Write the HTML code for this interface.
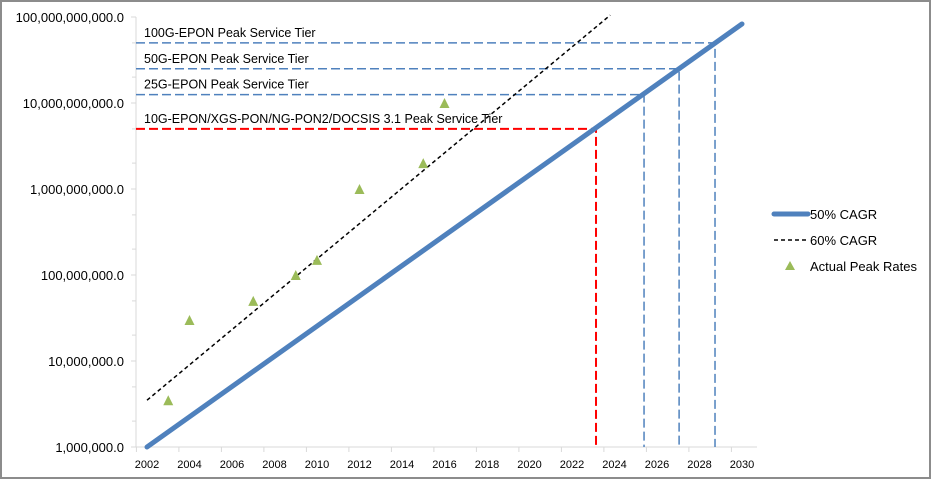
<!DOCTYPE html>
<html><head><meta charset="utf-8"><style>
body{margin:0;background:#fff}
svg{display:block;font-family:"Liberation Sans",sans-serif}
</style></head><body>
<svg id="c" width="932" height="480">
<rect x="1" y="1" width="929" height="477" fill="#fff" stroke="#8c8c8c" stroke-width="2"/>
<g id="g"></g>
</svg>
<script>
const yTickValues=[1e6,1e7,1e8,1e9,1e10,1e11];
const yTickLabels=["1,000,000.0","10,000,000.0","100,000,000.0","1,000,000,000.0","10,000,000,000.0","100,000,000,000.0"];
const xTicks=[2002,2004,2006,2008,2010,2012,2014,2016,2018,2020,2022,2024,2026,2028,2030];
const cagr50Start=[2002,1e6], cagr50End=[2030,8.3e10];
const cagr60Start=[2002,3.5e6], cagr60End=[2023.8,1.05e11];
const peakYears=[2003,2004,2007,2009,2010,2012,2015,2016];
const peakRates=[3.5e6,3e7,5e7,1e8,1.5e8,1e9,2e9,1e10];
const tierNames=["10G-EPON/XGS-PON/NG-PON2/DOCSIS 3.1 Peak Service Tier","25G-EPON Peak Service Tier","50G-EPON Peak Service Tier","100G-EPON Peak Service Tier"];
const tierRates=[5e9,12.5e9,25e9,50e9];
const tierYears=[2023.13,2025.39,2027.04,2028.73];
const tierColors=["#ff0000","#4f81bd","#4f81bd","#4f81bd"];

const X=y=>147+(y-2002)*21.25;
const Y=v=>447-(Math.log10(v)-6)*86;
const ns="http://www.w3.org/2000/svg", g=document.getElementById('g');
function mk(t,a,txt){const e=document.createElementNS(ns,t);for(const k in a)e.setAttribute(k,a[k]);if(txt!=null)e.textContent=txt;g.appendChild(e);return e;}

let e;
e=mk('line',{x1:136,y1:17,x2:136,y2:447,stroke:'#d9d9d9'});


e=mk('line',{x1:136,y1:447,x2:757,y2:447,stroke:'#d9d9d9'});


yTickValues.forEach((v,i)=>{
  mk('line',{x1:131,y1:Y(v),x2:136,y2:Y(v),stroke:'#d9d9d9'});
  e=mk('text',{x:124,y:Y(v)+5,'text-anchor':'end','font-size':13,fill:'#000'},yTickLabels[i]);
  
  
  if(i<5)[2,5].forEach(m=>mk('line',{x1:132,y1:Y(v*m),x2:136,y2:Y(v*m),stroke:'#d9d9d9'}));
});
xTicks.forEach(t=>{
  mk('line',{x1:X(t)-10.6,y1:447,x2:X(t)-10.6,y2:452,stroke:'#d9d9d9'});
  e=mk('text',{x:X(t),y:468,'text-anchor':'middle','font-size':11,fill:'#000'},String(t));
  
  
});
tierRates.forEach((r,i)=>{
  const w=i==0?2:1.5;
  e=mk('path',{d:`M136 ${Y(r)}H${X(tierYears[i])}V447`,fill:'none',stroke:tierColors[i],'stroke-width':w,'stroke-dasharray':'9,4'});
  
  
  e=mk('text',{x:144,y:Y(r)-6,'font-size':12.5,fill:'#000'},tierNames[i]);
  
  
});
e=mk('line',{x1:X(cagr60Start[0]),y1:Y(cagr60Start[1]),x2:X(cagr60End[0]),y2:Y(cagr60End[1]),stroke:'#000','stroke-width':1.5,'stroke-dasharray':'4,3'});


e=mk('line',{x1:X(cagr50Start[0]),y1:Y(cagr50Start[1]),x2:X(cagr50End[0]),y2:Y(cagr50End[1]),stroke:'#4f81bd','stroke-width':5,'stroke-linecap':'round'});


peakYears.forEach((yr,i)=>{
  const x=X(yr),y=Y(peakRates[i]);
  e=mk('path',{d:`M${x} ${y-5}L${x+5} ${y+5}L${x-5} ${y+5}Z`,fill:'#9bbb59'});
  
  
});
e=mk('line',{x1:774,y1:214,x2:808,y2:214,stroke:'#4f81bd','stroke-width':5,'stroke-linecap':'round'});


e=mk('text',{x:810,y:219,'font-size':13},'50% CAGR');


e=mk('line',{x1:774,y1:240,x2:808,y2:240,stroke:'#000','stroke-width':1.5,'stroke-dasharray':'4,3'});


e=mk('text',{x:810,y:245,'font-size':13},'60% CAGR');


e=mk('path',{d:'M790 261L795 270L785 270Z',fill:'#9bbb59'});


e=mk('text',{x:810,y:271,'font-size':13},'Actual Peak Rates');


</script>
</body></html>
